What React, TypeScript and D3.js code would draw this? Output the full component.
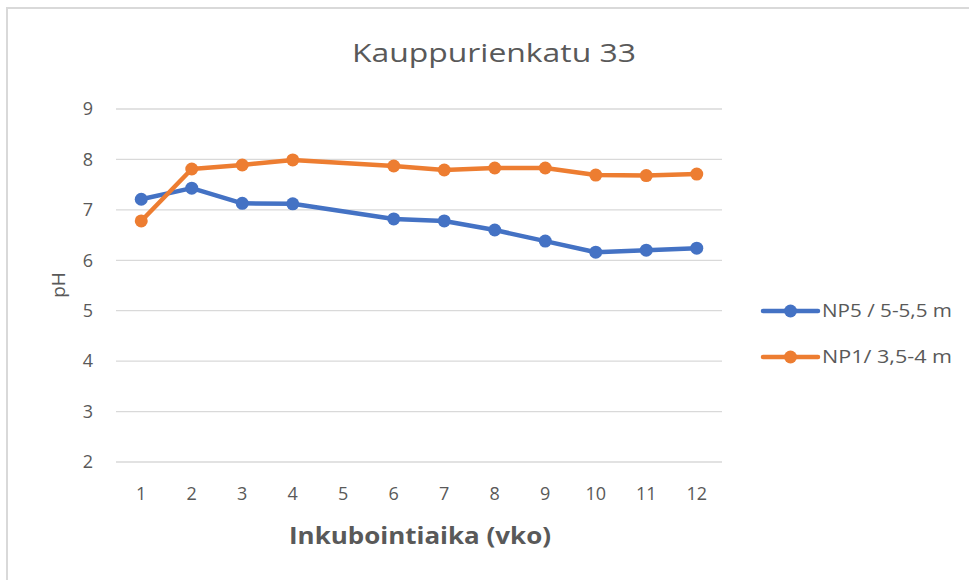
import React, { useEffect, useRef } from "react";
import * as d3 from "d3";

const weeks = ["1", "2", "3", "4", "5", "6", "7", "8", "9", "10", "11", "12"];
const measuredWeeks = ["1", "2", "3", "4", "6", "7", "8", "9", "10", "11", "12"];
const np5 = [7.21, 7.43, 7.13, 7.12, 6.82, 6.78, 6.6, 6.38, 6.16, 6.2, 6.24];
const np1 = [6.78, 7.81, 7.89, 7.99, 7.87, 7.79, 7.83, 7.83, 7.69, 7.68, 7.71];
const yTicks = [2, 3, 4, 5, 6, 7, 8, 9];
const seriesNames = ["NP5 / 5-5,5 m", "NP1/ 3,5-4 m"];
const colors = ["#4472C4", "#ED7D31"];

const App = () => {
  const svgRef = useRef<SVGSVGElement>(null);

  useEffect(() => {
    const svg = d3.select(svgRef.current);
    svg.selectAll("*").remove();
    const width = 969;
    const height = 580;
    const font = "'Open Sans', sans-serif";
    const textColor = "#595959";

    svg.attr("width", width).attr("height", height);

    // chart background + border
    svg.append("rect")
      .attr("x", 7).attr("y", 8)
      .attr("width", width + 10).attr("height", height + 10)
      .attr("fill", "#fff")
      .attr("stroke", "#d9d9d9")
      .attr("stroke-width", 2);

    const x = d3.scaleBand().domain(weeks).range([116, 722]);
    const y = d3.scaleLinear().domain([2, 9]).range([462, 109]);

    // gridlines
    svg.append("g")
      .selectAll("line")
      .data(yTicks)
      .enter()
      .append("line")
      .attr("x1", 116).attr("x2", 722)
      .attr("y1", d => y(d)).attr("y2", d => y(d))
      .attr("stroke", "#d9d9d9")
      .attr("stroke-width", 1.3);

    // y tick labels
    svg.append("g")
      .selectAll("text")
      .data(yTicks)
      .enter()
      .append("text")
      .attr("x", 93)
      .attr("y", d => y(d))
      .attr("dy", "0.35em")
      .attr("text-anchor", "end")
      .style("font-family", font)
      .style("font-size", "18px")
      .attr("fill", textColor)
      .text(d => d);

    // x tick labels
    svg.append("g")
      .selectAll("text")
      .data(weeks)
      .enter()
      .append("text")
      .attr("x", d => x(d)! + x.bandwidth() / 2)
      .attr("y", 494)
      .attr("dy", "0.35em")
      .attr("text-anchor", "middle")
      .style("font-family", font)
      .style("font-size", "18px")
      .attr("fill", textColor)
      .text(d => d);

    // title
    svg.append("text")
      .attr("x", 494).attr("y", 53)
      .attr("dy", "0.35em")
      .attr("text-anchor", "middle")
      .attr("textLength", 284)
      .attr("lengthAdjust", "spacingAndGlyphs")
      .style("font-family", font)
      .style("font-size", "26px")
      .attr("fill", textColor)
      .text("Kauppurienkatu 33");

    // axis titles
    svg.append("text")
      .attr("x", 420).attr("y", 536)
      .attr("dy", "0.35em")
      .attr("text-anchor", "middle")
      .attr("textLength", 262)
      .attr("lengthAdjust", "spacingAndGlyphs")
      .style("font-family", font)
      .style("font-size", "24px")
      .style("font-weight", "bold")
      .attr("fill", textColor)
      .text("Inkubointiaika (vko)");

    svg.append("text")
      .attr("transform", "translate(58,285) rotate(-90)")
      .attr("dy", "0.35em")
      .attr("text-anchor", "middle")
      .style("font-family", font)
      .style("font-size", "19px")
      .attr("fill", textColor)
      .text("pH");

    const line = d3.line<[string, number]>()
      .x(d => x(d[0])! + x.bandwidth() / 2)
      .y(d => y(d[1]));

    [np5, np1].forEach((vals, i) => {
      const pts: [string, number][] = measuredWeeks.map((w, j) => [w, vals[j]]);
      svg.append("path")
        .datum(pts)
        .attr("d", line)
        .attr("fill", "none")
        .attr("stroke", colors[i])
        .attr("stroke-width", 4.5)
        .attr("stroke-linejoin", "round")
        .attr("stroke-linecap", "round");
      svg.append("g")
        .selectAll("circle")
        .data(pts)
        .enter()
        .append("circle")
        .attr("cx", d => x(d[0])! + x.bandwidth() / 2)
        .attr("cy", d => y(d[1]))
        .attr("r", 6.5)
        .attr("fill", colors[i]);
    });

    // legend
    const legend = svg.append("g")
      .selectAll("g")
      .data(seriesNames)
      .enter()
      .append("g")
      .attr("transform", (d, i) => `translate(763,${311 + i * 46})`);
    legend.append("line")
      .attr("x1", 0).attr("x2", 55)
      .attr("stroke", (d, i) => colors[i])
      .attr("stroke-width", 4.5)
      .attr("stroke-linecap", "round");
    legend.append("circle")
      .attr("cx", 27.5)
      .attr("r", 6.5)
      .attr("fill", (d, i) => colors[i]);
    legend.append("text")
      .attr("x", 59)
      .attr("dy", "0.35em")
      .attr("textLength", 130)
      .attr("lengthAdjust", "spacingAndGlyphs")
      .style("font-family", font)
      .style("font-size", "18px")
      .attr("fill", textColor)
      .text(d => d);
  }, []);

  return <svg ref={svgRef} style={{ position: "absolute", left: 0, top: 0 }}></svg>;
};

export default App;
